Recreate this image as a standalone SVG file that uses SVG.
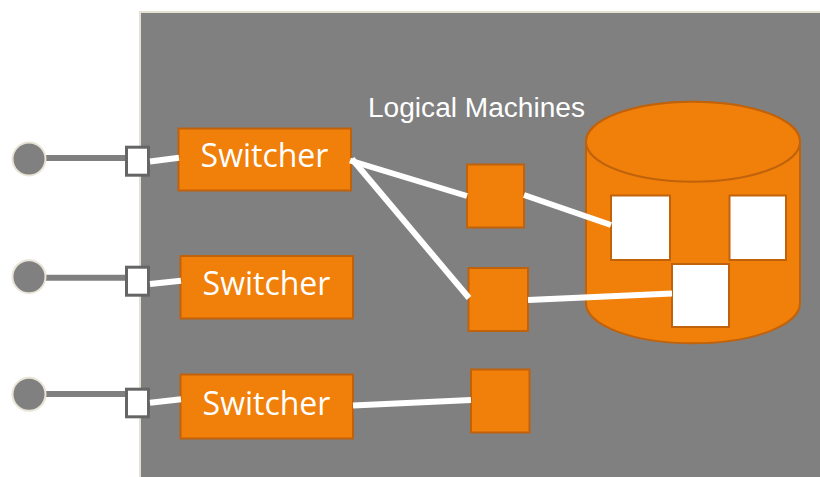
<svg xmlns="http://www.w3.org/2000/svg" width="820" height="477" viewBox="0 0 820 477">
  <style>
    .panel { fill: #808080; stroke: #e4e0d2; stroke-width: 2; }
    .host { fill: #808080; stroke: #e8e4d6; stroke-width: 2; }
    .cable { stroke: #7f7f7f; stroke-width: 6; fill: none; }
    .port { fill: #ffffff; stroke: #656565; stroke-width: 3; }
    .link { stroke: #ffffff; stroke-width: 6; fill: none; }
    .box { fill: #f0800a; stroke: #c0620c; stroke-width: 2; }
    .slot { fill: #ffffff; stroke: #c0620c; stroke-width: 2; }
    .sw-label { font-family: "Open Sans", "Liberation Sans", sans-serif; font-size: 32px; fill: #ffffff; text-anchor: middle; }
    .title { font-family: "Liberation Sans", Arial, sans-serif; font-size: 27px; fill: #ffffff; }
  </style>

  <!-- enclosing grey panel -->
  <rect class="panel" x="140" y="12" width="690" height="480"/>

  <text class="title" x="368" y="116.5" textLength="217" lengthAdjust="spacingAndGlyphs">Logical Machines</text>

  <!-- external hosts with their cables and ports -->
  <g id="host1">
    <line class="cable" x1="45" y1="158" x2="126" y2="158"/>
    <circle class="host" cx="29" cy="159" r="16.5"/>
    <rect class="port" x="126.5" y="147.2" width="22" height="28"/>
  </g>
  <g id="host2">
    <line class="cable" x1="45" y1="277.7" x2="126" y2="277.7"/>
    <circle class="host" cx="29" cy="276.7" r="16.5"/>
    <rect class="port" x="126.5" y="267.2" width="22" height="28"/>
  </g>
  <g id="host3">
    <line class="cable" x1="45" y1="394" x2="126" y2="394"/>
    <circle class="host" cx="29" cy="394.3" r="16.5"/>
    <rect class="port" x="126.5" y="389.2" width="22" height="27.6"/>
  </g>

  <!-- switchers -->
  <g id="switcher1">
    <rect class="box" x="178.5" y="128.5" width="172.5" height="62"/>
    <text class="sw-label" x="264.5" y="166.5">Switcher</text>
  </g>
  <g id="switcher2">
    <rect class="box" x="180.5" y="256" width="172.5" height="62.5"/>
    <text class="sw-label" x="266.5" y="294.5">Switcher</text>
  </g>
  <g id="switcher3">
    <rect class="box" x="180.5" y="374.5" width="172.5" height="64"/>
    <text class="sw-label" x="266.5" y="415">Switcher</text>
  </g>

  <!-- logical machines -->
  <g id="machineA">
    <rect class="box" x="467" y="164.5" width="57" height="63"/>
  </g>
  <g id="machineB">
    <rect class="box" x="468.5" y="268" width="59.5" height="63"/>
  </g>
  <g id="machineC">
    <rect class="box" x="471" y="369.5" width="58.5" height="63"/>
  </g>

  <!-- storage cylinder with slots -->
  <g id="storage">
    <path class="box" d="M586,141.7 L586,303.3 A107,40 0 0 0 800,303.3 L800,141.7 A107,40 0 0 0 586,141.7 Z"/>
    <ellipse class="box" cx="693" cy="141.7" rx="107" ry="40"/>
    <rect class="slot" x="611" y="195.5" width="59" height="64.5"/>
    <rect class="slot" x="729.5" y="195.5" width="56.5" height="64.5"/>
    <rect class="slot" x="672" y="264" width="57" height="63"/>
  </g>

  <!-- connectors, drawn over the cylinder -->
  <g id="connectors">
    <line class="link" x1="150" y1="161.5" x2="179" y2="157.7"/>
    <line class="link" x1="150" y1="284" x2="181" y2="280.7"/>
    <line class="link" x1="150" y1="402.7" x2="181" y2="399.3"/>
    <line class="link" x1="350" y1="160.5" x2="467" y2="196"/>
    <line class="link" x1="352" y1="159" x2="469" y2="298"/>
    <line class="link" x1="524" y1="195" x2="611" y2="225"/>
    <line class="link" x1="528" y1="300" x2="672" y2="293.5"/>
    <line class="link" x1="353" y1="405.5" x2="471" y2="400"/>
  </g>
</svg>
